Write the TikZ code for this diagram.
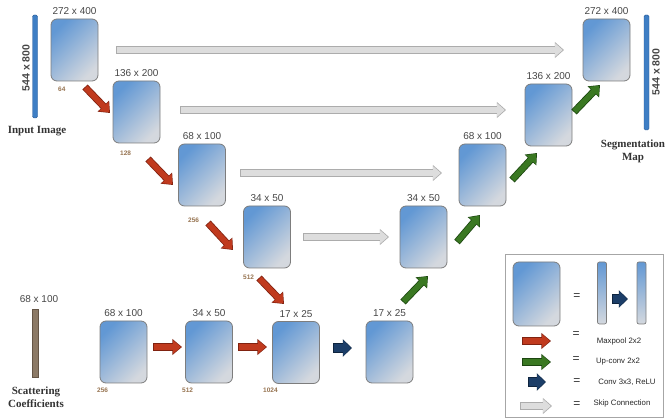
\documentclass[tikz,border=0pt]{standalone}
\usepackage{fontspec}
\setmainfont{Liberation Sans}
\newfontfamily\capfont{Liberation Serif}
\usetikzlibrary{arrows.meta,positioning}

\definecolor{fmblue}{RGB}{98,152,212}
\definecolor{fmgray}{RGB}{212,216,222}
\definecolor{fmedge}{RGB}{125,125,125}
\definecolor{dimtext}{RGB}{70,70,70}
\definecolor{chantext}{RGB}{150,115,80}
\definecolor{inbar}{RGB}{62,126,196}
\definecolor{inbaredge}{RGB}{40,90,150}
\definecolor{scbar}{RGB}{140,122,102}
\definecolor{scbaredge}{RGB}{100,85,70}
\definecolor{poolred}{RGB}{192,58,30}
\definecolor{pooledge}{RGB}{128,34,16}
\definecolor{upgreen}{RGB}{58,120,34}
\definecolor{upedge}{RGB}{28,70,16}
\definecolor{convnavy}{RGB}{28,62,104}
\definecolor{convedge}{RGB}{14,36,62}
\definecolor{skipfill}{RGB}{221,221,221}
\definecolor{skipedge}{RGB}{172,172,172}

\tikzset{
  fmap/.style={rounded corners=6pt,draw=fmedge,line width=0.8pt,top color=fmblue,bottom color=fmgray,shading angle=45,minimum width=47pt,minimum height=62pt,inner sep=0pt},
  thinmap/.style={rounded corners=2pt,draw=fmedge,line width=0.7pt,top color=fmblue,bottom color=fmgray,minimum width=9pt,minimum height=62pt,inner sep=0pt},
  dim/.style={font=\fontsize{10}{12}\selectfont,text=dimtext,inner sep=1pt},
  chan/.style={font=\fontsize{6.5}{8}\selectfont\bfseries,text=chantext,inner sep=0pt,anchor=west},
  capt/.style={font=\capfont\fontsize{11}{12.5}\selectfont\bfseries,text=black!80,align=center,inner sep=0pt},
  legtext/.style={font=\fontsize{7.8}{9}\selectfont,text=black!85,inner sep=0pt},
  eqsign/.style={font=\fontsize{12}{14}\selectfont,text=black!80,inner sep=0pt},
  pool/.style={line width=5.6pt,draw=poolred,shorten <=0.8pt,-{Triangle[length=8pt,width=13pt,sep=1pt]},
    preaction={draw=pooledge,line width=7.2pt,shorten <=0pt,-{Triangle[length=9.6pt,width=15.4pt]}}},
  upconv/.style={line width=5.6pt,draw=upgreen,shorten <=0.8pt,-{Triangle[length=8pt,width=13pt,sep=1pt]},
    preaction={draw=upedge,line width=7.2pt,shorten <=0pt,-{Triangle[length=9.6pt,width=15.4pt]}}},
  conv/.style={line width=8.4pt,draw=convnavy,shorten <=0.6pt,-{Triangle[length=8pt,width=15.4pt,sep=0.8pt]},
    preaction={draw=convedge,line width=9.8pt,shorten <=0pt,-{Triangle[length=9.2pt,width=17pt]}}},
  skip/.style={line width=6.4pt,draw=skipfill,shorten <=0.8pt,-{Triangle[length=7.6pt,width=12.8pt,sep=1.2pt]},
    preaction={draw=skipedge,line width=8.2pt,shorten <=0pt,-{Triangle[length=9.2pt,width=15.6pt]}}}
}

\begin{document}
\begin{tikzpicture}[x=1pt,y=-1pt]
\useasboundingbox (0,0) rectangle (665,419);
%
% input and output images
\node[draw=inbaredge,fill=inbar,rounded corners=1.5pt,minimum width=5pt,minimum height=103pt,inner sep=0pt] (inimg) at (35,66.5) {};
\node[dim,font=\fontsize{10.5}{12}\selectfont\bfseries,rotate=90] (inlbl) at (26,68) {544 x 800};
\node[capt] (incap) at (37,131) {Input Image};
\node[draw=inbaredge,fill=inbar,rounded corners=1.5pt,minimum width=5pt,minimum height=115pt,inner sep=0pt] (outimg) at (646.5,72.5) {};
\node[dim,font=\fontsize{10.5}{12}\selectfont\bfseries,rotate=90] (outlbl) at (656,72) {544 x 800};
\node[capt] (outcap) at (633,151.5) {Segmentation\\Map};
%
% scattering input
\node[draw=scbaredge,fill=scbar,minimum width=6pt,minimum height=68pt,inner sep=0pt] (scat) at (35,343) {};
\node[dim] (scatlbl) at (39,299) {68 x 100};
\node[capt] (scatcap) at (36,397) {Scattering\\Coefficients};
%
% contracting path
\node[fmap] (b1) at (74.5,50) {};
\node[fmap] (b2) at (136.5,112) {};
\node[fmap] (b3) at (202,175) {};
\node[fmap] (b4) at (267,237) {};
\node[fmap] (b5) at (296,352.5) {};
\node[fmap] (e1) at (123.5,352) {};
\node[fmap] (e2) at (209,352) {};
%
% expanding path
\node[fmap] (d5) at (389.5,352) {};
\node[fmap] (d4) at (423.5,237) {};
\node[fmap] (d3) at (482.5,175) {};
\node[fmap] (d2) at (548.5,115) {};
\node[fmap] (d1) at (606.5,50) {};
%
% sizes
\node[dim] (l1) [above=2.5pt of b1] {272 x 400};
\node[dim] (l2) [above=2.5pt of b2] {136 x 200};
\node[dim] (l3) [above=2.5pt of b3] {68 x 100};
\node[dim] (l4) [above=2.5pt of b4] {34 x 50};
\node[dim] (l5) [above=2.5pt of b5] {17 x 25};
\node[dim] (le1) [above=2.5pt of e1] {68 x 100};
\node[dim] (le2) [above=2.5pt of e2] {34 x 50};
\node[dim] (ld5) [above=2.5pt of d5] {17 x 25};
\node[dim] (ld4) [above=2.5pt of d4] {34 x 50};
\node[dim] (ld3) [above=2.5pt of d3] {68 x 100};
\node[dim] (ld2) [above=2.5pt of d2] {136 x 200};
\node[dim] (ld1) [above=2.5pt of d1] {272 x 400};
%
% channels
\node[chan] (c1) at (58,89) {64};
\node[chan] (c2) at (120,153) {128};
\node[chan] (c3) at (188,220) {256};
\node[chan] (c4) at (243,277) {512};
\node[chan] (c5) at (97,390) {256};
\node[chan] (c6) at (182,390) {512};
\node[chan] (c7) at (263,390) {1024};
%
% skip connections
\coordinate (s1a) at (116,50); \coordinate (s1b) at (564,50);
\coordinate (s2a) at (180,110); \coordinate (s2b) at (506,110);
\coordinate (s3a) at (240,173); \coordinate (s3b) at (442,173);
\coordinate (s4a) at (303,237); \coordinate (s4b) at (389,237);
\draw[skip] (s1a) -- (s1b);
\draw[skip] (s2a) -- (s2b);
\draw[skip] (s3a) -- (s3b);
\draw[skip] (s4a) -- (s4b);
%
% maxpool
\coordinate (p1a) at (85,87); \coordinate (p1b) at (110,113);
\coordinate (p2a) at (148,159); \coordinate (p2b) at (173,185);
\coordinate (p3a) at (208,223); \coordinate (p3b) at (233,250);
\coordinate (p4a) at (259,278); \coordinate (p4b) at (284,304);
\coordinate (p5a) at (153,347); \coordinate (p5b) at (182,347);
\coordinate (p6a) at (238,347); \coordinate (p6b) at (267,347);
\draw[pool] (p1a) -- (p1b);
\draw[pool] (p2a) -- (p2b);
\draw[pool] (p3a) -- (p3b);
\draw[pool] (p4a) -- (p4b);
\draw[pool] (p5a) -- (p5b);
\draw[pool] (p6a) -- (p6b);
%
% up-conv
\coordinate (u1a) at (403,302); \coordinate (u1b) at (428,276);
\coordinate (u2a) at (457,242); \coordinate (u2b) at (480,215);
\coordinate (u3a) at (512,180); \coordinate (u3b) at (537,153);
\coordinate (u4a) at (574,112); \coordinate (u4b) at (600,85);
\draw[upconv] (u1a) -- (u1b);
\draw[upconv] (u2a) -- (u2b);
\draw[upconv] (u3a) -- (u3b);
\draw[upconv] (u4a) -- (u4b);
%
% bottleneck conv
\coordinate (k1a) at (333,348); \coordinate (k1b) at (352,348);
\draw[conv] (k1a) -- (k1b);
%
% legend
\draw[draw=black!35,line width=0.7pt] (505,254) rectangle (663,417);
\node[fmap,minimum height=64pt] (lgmap) at (536.5,294) {};
\node[eqsign] (eq1) at (577,297) {=};
\node[thinmap] (lgbar1) at (602,293) {};
\node[thinmap] (lgbar2) at (641.5,293) {};
\coordinate (k2a) at (612,299); \coordinate (k2b) at (628,299);
\draw[conv] (k2a) -- (k2b);
%
\coordinate (lpa) at (522,341); \coordinate (lpb) at (551,341);
\draw[pool] (lpa) -- (lpb);
\node[eqsign] (eq2) at (576,335) {=};
\node[legtext] (lt2) at (619,341) {Maxpool 2x2};
%
\coordinate (lua) at (522,362); \coordinate (lub) at (551,362);
\draw[upconv] (lua) -- (lub);
\node[eqsign] (eq3) at (576,360) {=};
\node[legtext] (lt3) at (618,362) {Up-conv 2x2};
%
\coordinate (lca) at (528,382); \coordinate (lcb) at (546,382);
\draw[conv] (lca) -- (lcb);
\node[eqsign] (eq4) at (577,382) {=};
\node[legtext] (lt4) at (627,382) {Conv 3x3, ReLU};
%
\coordinate (lsa) at (520,406); \coordinate (lsb) at (552,406);
\draw[skip] (lsa) -- (lsb);
\node[eqsign] (eq5) at (577,405) {=};
\node[legtext] (lt5) at (622,403) {Skip Connection};
\end{tikzpicture}
\end{document}
